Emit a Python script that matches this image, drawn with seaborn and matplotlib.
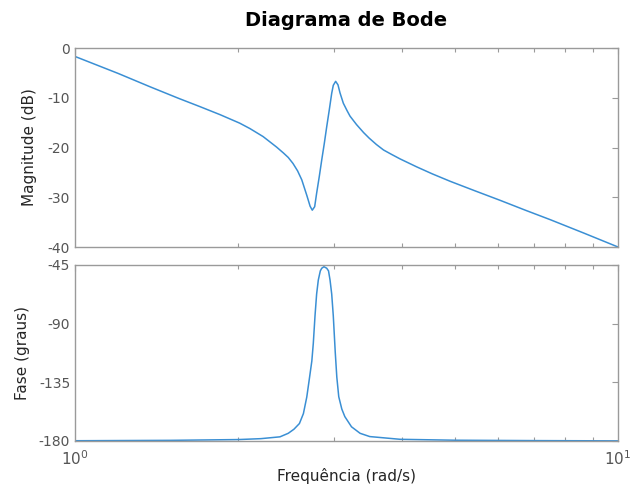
import numpy as np
import pandas as pd
import matplotlib
matplotlib.use("Agg")
import matplotlib.pyplot as plt
import seaborn as sns
from matplotlib.ticker import LogLocator, FixedLocator, NullFormatter

# ---- data ----
freq_mag = [1.0, 1.2, 1.375, 1.55, 1.70, 1.85, 2.01, 2.10, 2.22, 2.35, 2.42, 2.47,
            2.52, 2.57, 2.616, 2.672, 2.71, 2.735, 2.763, 2.786, 2.817, 2.847,
            2.878, 2.908, 2.94, 2.97, 2.99, 3.02, 3.05, 3.076, 3.12, 3.17, 3.21,
            3.30, 3.40, 3.48, 3.59, 3.70, 3.83, 3.97, 4.26, 4.55, 4.91, 5.45,
            6.06, 6.75, 7.50, 8.65, 10.0]
mag_db = [-1.7, -5.1, -7.8, -10.1, -11.8, -13.4, -15.1, -16.2, -17.8, -19.9, -21.1, -22.0,
          -23.2, -24.7, -26.5, -29.6, -31.8, -32.6, -31.9, -29.2, -25.9, -22.5,
          -19.2, -15.8, -12.4, -9.1, -7.5, -6.7, -7.4, -9.0, -11.1, -12.6, -13.7,
          -15.4, -17.0, -18.1, -19.4, -20.5, -21.4, -22.3, -23.9, -25.3, -26.8, -28.7,
          -30.6, -32.6, -34.5, -37.2, -40.0]

freq_ph = [1.0, 1.5, 2.0, 2.2, 2.385, 2.47, 2.53, 2.59, 2.634, 2.672, 2.70, 2.73,
           2.747, 2.767, 2.786, 2.806, 2.83, 2.847, 2.874, 2.908, 2.93, 2.949,
           2.97, 2.99, 3.015, 3.035, 3.06, 3.10, 3.14, 3.23, 3.35, 3.49, 3.97, 5.0,
           7.0, 10.0]
phase_deg = [-179.8, -179.5, -178.9, -178.2, -176.8, -174.1, -171.0, -166.6, -159.0,
             -146.3, -133.0, -118.6, -105.1, -84.0, -67.3, -56.5, -49.5, -47.5, -46.3,
             -47.5, -49.5, -56.5, -67.3, -84.0, -112.0, -131.0, -146.0, -155.5, -161.3,
             -169.1, -174.1, -176.6, -178.7, -179.4, -179.7, -179.9]

mag_ticks = [0, -10, -20, -30, -40]
phase_ticks = [-45, -90, -135, -180]

title = "Diagrama de Bode"
xlabel = "Frequência (rad/s)"
ylabel_mag = "Magnitude (dB)"
ylabel_ph = "Fase (graus)"

# ---- styling ----
sns.set_style("white")
plt.rcParams["font.family"] = ["DejaVu Sans"]
line_color = "#3a8fd4"
spine_color = "#9a9a9a"
tick_label_color = "#555555"

fig = plt.figure(figsize=(6.3, 4.88), dpi=100)
ax1 = fig.add_axes([75 / 630, 1 - 247 / 488, 543 / 630, 199 / 488])
ax2 = fig.add_axes([75 / 630, 1 - 441 / 488, 543 / 630, 176 / 488])

df_mag = pd.DataFrame({"freq": freq_mag, "mag": mag_db})
df_ph = pd.DataFrame({"freq": freq_ph, "phase": phase_deg})

sns.lineplot(data=df_mag, x="freq", y="mag", ax=ax1, color=line_color, linewidth=1.1)
sns.lineplot(data=df_ph, x="freq", y="phase", ax=ax2, color=line_color, linewidth=1.1)

for ax in (ax1, ax2):
    ax.set_xscale("log")
    ax.set_xlim(1, 10)
    for s in ax.spines.values():
        s.set_color(spine_color)
        s.set_linewidth(1.0)
        s.set_visible(True)
    ax.xaxis.set_major_locator(FixedLocator([1, 10]))
    ax.xaxis.set_minor_locator(LogLocator(base=10, subs=np.arange(2, 10)))
    ax.xaxis.set_minor_formatter(NullFormatter())
    ax.tick_params(axis="both", which="major", direction="in", length=4,
                   width=0.8, color=spine_color, labelcolor=tick_label_color,
                   labelsize=10, top=True, right=True)
    ax.tick_params(axis="x", which="minor", direction="in", length=3,
                   width=0.8, color=spine_color, top=True, bottom=True)
    ax.set_xlabel("")
    ax.set_ylabel("")

ax1.set_ylim(-40, 0)
ax1.set_yticks(mag_ticks)
ax1.set_yticklabels([str(t) for t in mag_ticks])
ax1.tick_params(axis="x", labelbottom=False)

ax2.set_ylim(-180, -45)
ax2.set_yticks(phase_ticks)
ax2.set_yticklabels([str(t) for t in phase_ticks])
ax2.set_xticks([1, 10])
ax2.set_xticklabels([r"$10^0$", r"$10^1$"])
ax2.tick_params(axis="x", which="major", pad=6, labelsize=11)

ax1.set_ylabel(ylabel_mag, fontsize=11, color="#262626", labelpad=8)
ax2.set_ylabel(ylabel_ph, fontsize=11, color="#262626", labelpad=6)
ax2.set_xlabel(xlabel, fontsize=11, color="#262626", labelpad=0)
fig.align_ylabels([ax1, ax2])

fig.text(346 / 630, 1 - 20 / 488, title, ha="center", va="center",
         fontsize=14, fontweight="bold", color="black")

fig.savefig("out.png", dpi=100)
